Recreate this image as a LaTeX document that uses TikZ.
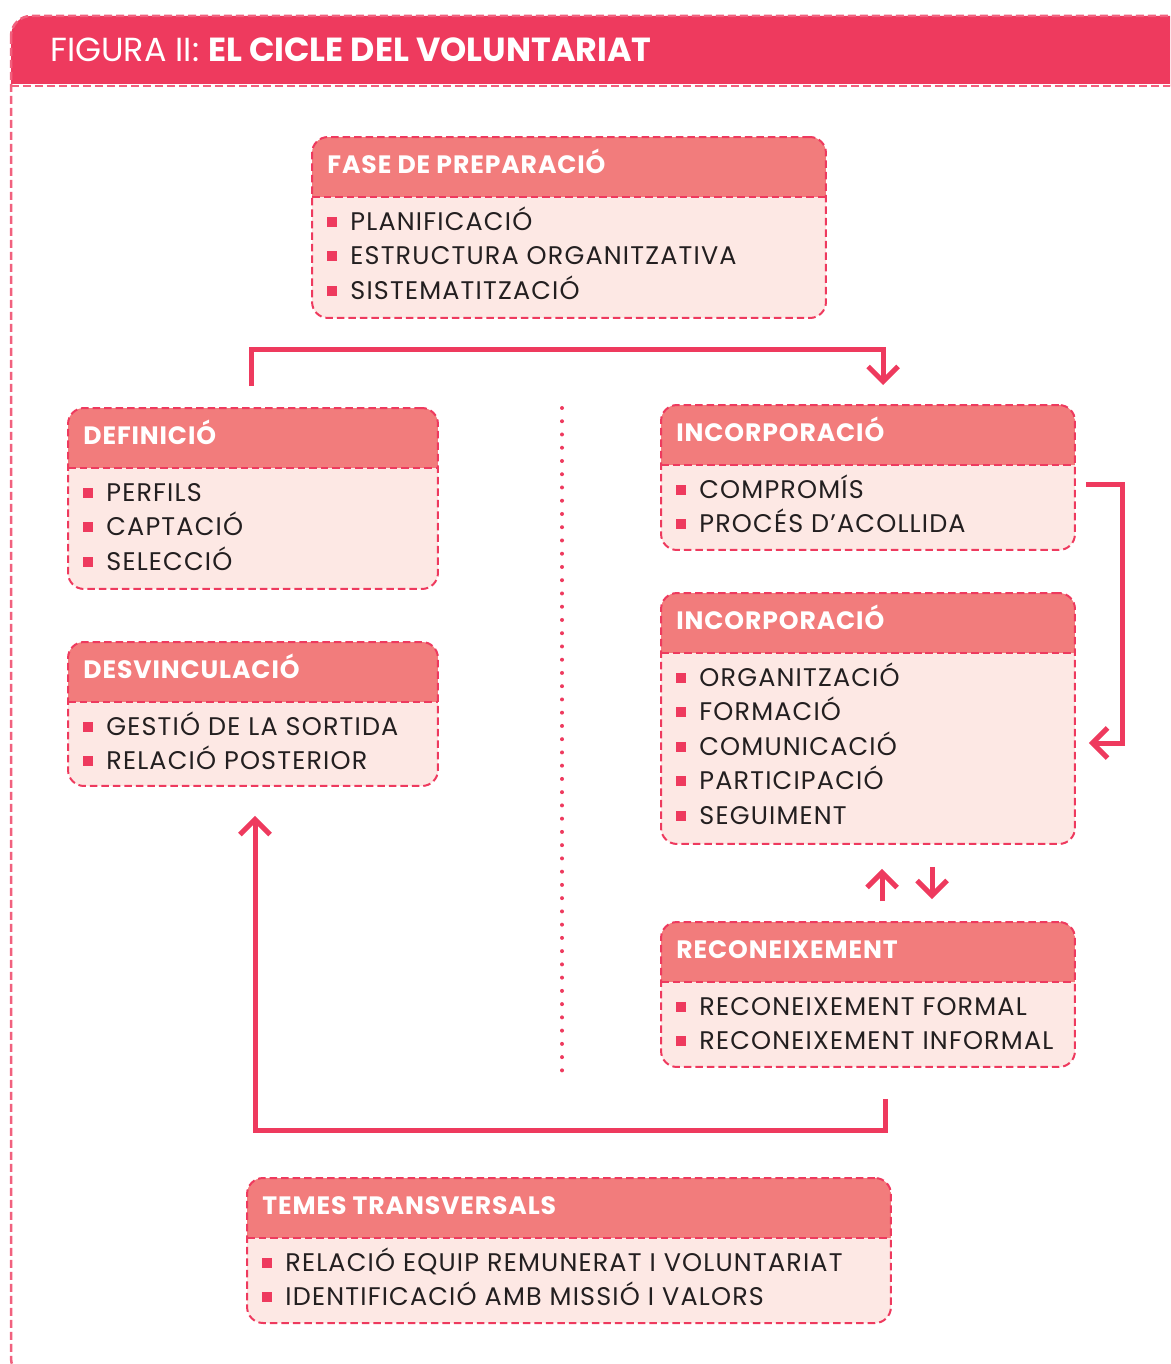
\documentclass[tikz,border=0pt]{standalone}
\usepackage{fontspec}
\setmainfont{Poppins}
\usetikzlibrary{arrows.meta}

\definecolor{vermell}{HTML}{EE3A5E}
\definecolor{salmo}{HTML}{F27C7C}
\definecolor{rosa}{HTML}{FDE8E4}
\definecolor{negre}{HTML}{231F20}

\newcommand{\quadrat}{\textcolor{vermell}{\rule[0.07cm]{0.2cm}{0.2cm}}\hspace{0.26cm}}
\newcommand{\omple}[3]{%
  \node[titolcaixa] (#1-t) at ([shift={(16,37)}]#1.north west) {#2};
  \foreach \e [count=\i] in {#3}
    \node[element] (#1-\i) at ([shift={(0,{57+34.5*(\i-1)})}]#1-t.base west) {\quadrat\e};
}

\tikzset{
  caixa/.style={draw=vermell, line width=0.04cm, dash pattern=on 0.15cm off 0.08cm,
    rounded corners=0.32cm, fill=rosa, inner sep=0pt,
    path picture={
      \fill[salmo, sharp corners] (path picture bounding box.north west)
        rectangle ([yshift=-1.2cm]path picture bounding box.north east);
      \draw[vermell, line width=0.04cm, dash pattern=on 0.15cm off 0.08cm]
        ([yshift=-1.2cm]path picture bounding box.north west)
        -- ([yshift=-1.2cm]path picture bounding box.north east);}},
  titolcaixa/.style={anchor=base west, inner sep=0pt, text=white,
    font=\bfseries\fontsize{14.3}{17}\selectfont\addfontfeatures{LetterSpace=3.5}},
  element/.style={anchor=base west, inner sep=0pt, text=negre,
    font=\fontsize{14.5}{17}\selectfont\addfontfeatures{LetterSpace=4.6}},
  fletxa/.style={draw=vermell, line width=0.1cm, -{Straight Barb[length=0.3cm,width=0.6cm]}},
  marc/.style={vermell!80, line width=0.05cm, dash pattern=on 0.16cm off 0.08cm},
  punts/.style={vermell, line width=0.08cm, line cap=round, dash pattern=on 0pt off 0.265cm}
}

\begin{document}
\begin{tikzpicture}[x=0.02cm, y=-0.02cm]
  \useasboundingbox (0,0) rectangle (1170,1364);

  % capcalera i marc
  \begin{scope}
    \clip (0,0) rectangle (1170,1364);
    \begin{scope}
      \clip[rounded corners=0.4cm] (11,16) rectangle (1200,1378);
      \fill[vermell] (0,0) rectangle (1200,86);
    \end{scope}
    \draw[white, line width=0.06cm] (11,86) -- (1200,86);
    \draw[marc, rounded corners=0.4cm] (11,16) rectangle (1200,1378);
    \draw[marc] (11,86) -- (1200,86);
  \end{scope}
  \node[anchor=base west, inner sep=0pt, text=white, font=\fontsize{19}{23}\selectfont]
    (titol) at (50,62) {FIGURA II: \textbf{EL CICLE DEL VOLUNTARIAT}};

  % caixes
  \node[caixa, minimum width=10.28cm, minimum height=3.62cm] (prep) at (569,227.5) {};
  \node[caixa, minimum width=7.4cm, minimum height=3.62cm] (def) at (253,498.5) {};
  \node[caixa, minimum width=7.4cm, minimum height=2.88cm] (desv) at (253,714) {};
  \node[caixa, minimum width=8.28cm, minimum height=2.9cm] (inc) at (868,477.5) {};
  \node[caixa, minimum width=8.28cm, minimum height=5.02cm] (org) at (868,718.5) {};
  \node[caixa, minimum width=8.28cm, minimum height=2.9cm] (rec) at (868,994.5) {};
  \node[caixa, minimum width=12.88cm, minimum height=2.9cm] (temes) at (569,1250.5) {};

  \omple{prep}{FASE DE PREPARACIÓ}{PLANIFICACIÓ, ESTRUCTURA ORGANITZATIVA, SISTEMATITZACIÓ}
  \omple{def}{DEFINICIÓ}{PERFILS, CAPTACIÓ, SELECCIÓ}
  \omple{desv}{DESVINCULACIÓ}{GESTIÓ DE LA SORTIDA, RELACIÓ POSTERIOR}
  \omple{inc}{INCORPORACIÓ}{COMPROMÍS, PROCÉS D’ACOLLIDA}
  \omple{org}{INCORPORACIÓ}{ORGANITZACIÓ, FORMACIÓ, COMUNICACIÓ, PARTICIPACIÓ, SEGUIMENT}
  \omple{rec}{RECONEIXEMENT}{RECONEIXEMENT FORMAL, RECONEIXEMENT INFORMAL}
  \omple{temes}{TEMES TRANSVERSALS}{RELACIÓ EQUIP REMUNERAT I VOLUNTARIAT, IDENTIFICACIÓ AMB MISSIÓ I VALORS}

  % fletxes
  \draw[fletxa] ([shift={(-2,-21)}]def.north) -- ++(0,-37) -| ([shift={(15,-19)}]inc.north);
  \draw[fletxa] ([shift={(10,6.5)}]inc.east) -- ++(37,0) |- ([shift={(13,24.5)}]org.east);
  \draw[fletxa] ([shift={(14,-20)}]rec.north) -- ([shift={(14,24)}]org.south);
  \draw[fletxa] ([shift={(64,22)}]org.south) -- ([shift={(64,-22)}]rec.north);
  \draw[fletxa] ([shift={(17,31)}]rec.south) -- ++(0,32) -| ([shift={(2,29)}]desv.south);

  \draw[punts] (562,408) -- (562,1078);
\end{tikzpicture}
\end{document}
